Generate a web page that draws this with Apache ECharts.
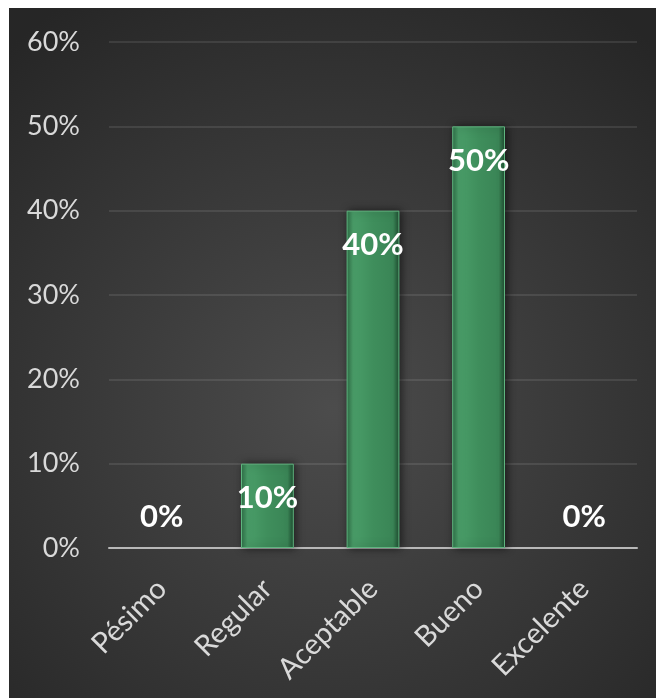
<!DOCTYPE html>
<html>
<head>
<meta charset="utf-8">
<script src="https://cdn.jsdelivr.net/npm/echarts@6/dist/echarts.min.js"></script>
<style>
  html, body { margin: 0; padding: 0; background: #ffffff; }
  #chart { position: absolute; left: 9px; top: 8px; width: 647px; height: 690px; }
</style>
</head>
<body>
<div id="chart"></div>
<script>
// Rating categories and share of responses (%)
const categories = ['Pésimo', 'Regular', 'Aceptable', 'Bueno', 'Excelente'];
const shares = [0, 10, 40, 50, 0];
const yTicks = { min: 0, max: 60, interval: 10 };

const chart = echarts.init(document.getElementById('chart'));

const barFill = {
  type: 'linear', x: 0, y: 0, x2: 1, y2: 0,
  colorStops: [
    { offset: 0, color: '#2f7048' },
    { offset: 0.12, color: '#4a9e69' },
    { offset: 0.5, color: '#3f8e5c' },
    { offset: 0.88, color: '#3a8556' },
    { offset: 1, color: '#1f4d31' }
  ]
};

const data = shares.map(v => {
  const item = { value: v };
  if (v === 0) {
    // empty bars: keep only the value label above the axis
    item.label = { position: 'top', distance: 16 };
    item.itemStyle = { borderWidth: 0, color: 'rgba(0,0,0,0)', shadowBlur: 0 };
  }
  return item;
});

chart.setOption({
  backgroundColor: {
    type: 'radial', x: 0.5, y: 0.58, r: 0.75,
    colorStops: [
      { offset: 0, color: '#4c4c4c' },
      { offset: 1, color: '#262626' }
    ]
  },
  textStyle: { fontFamily: 'Lato' },
  grid: { left: 100, top: 34, right: 19, bottom: 150, containLabel: false },
  xAxis: {
    type: 'category',
    data: categories,
    axisLine: { show: true, lineStyle: { color: '#b8b8b8', width: 2 } },
    axisTick: { show: false },
    axisLabel: {
      rotate: 45, margin: 36, color: '#d9d9d9', fontSize: 29, fontFamily: 'Lato'
    }
  },
  yAxis: {
    type: 'value',
    min: yTicks.min, max: yTicks.max, interval: yTicks.interval,
    axisLine: { show: false },
    axisTick: { show: false },
    splitLine: { lineStyle: { color: 'rgba(255,255,255,0.13)', width: 1.5 } },
    axisLabel: {
      formatter: '{value}%', color: '#d9d9d9', fontSize: 27, margin: 29, fontFamily: 'Lato'
    }
  },
  series: [{
    type: 'bar',
    data: data,
    barWidth: '50%',
    itemStyle: {
      color: barFill,
      borderColor: '#5fb57f',
      borderWidth: 1,
      shadowColor: 'rgba(0,0,0,0.55)',
      shadowBlur: 8,
      shadowOffsetX: 2
    },
    label: {
      show: true,
      position: 'insideTop',
      distance: 19,
      formatter: '{c}%',
      color: '#ffffff',
      fontSize: 31,
      fontWeight: 'bold',
      fontFamily: 'Lato'
    }
  }]
});
</script>
</body>
</html>
